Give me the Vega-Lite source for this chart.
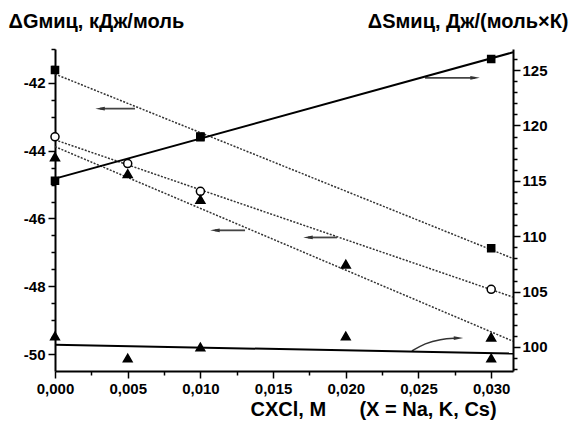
{
  "$schema": "https://vega.github.io/schema/vega-lite/v6.json",
  "width": 458,
  "height": 322,
  "autosize": {"type": "none"},
  "padding": {"left": 55, "top": 49, "right": 57, "bottom": 52},
  "background": "white",
  "config": {
    "view": {"stroke": null},
    "font": "Liberation Sans",
    "axis": {
      "grid": false,
      "domainColor": "black",
      "domainWidth": 2,
      "tickColor": "black",
      "tickWidth": 1.5,
      "tickCount": 200,
      "labelColor": "black",
      "labelFontSize": 15,
      "labelFontWeight": "bold",
      "labelFont": "Liberation Sans",
      "labelOverlap": false,
      "labelBound": false,
      "labelFlush": false,
      "titleColor": "black",
      "titleFont": "Liberation Sans",
      "titleFontSize": 20,
      "titleFontWeight": "bold"
    }
  },
  "datasets": {
    "gpts": [
      {"x": 0, "v": -41.62, "s": "sq"},
      {"x": 0.01, "v": -43.6, "s": "sq"},
      {"x": 0.03, "v": -46.88, "s": "sq"},
      {"x": 0, "v": -43.59, "s": "ci"},
      {"x": 0.005, "v": -44.38, "s": "ci"},
      {"x": 0.01, "v": -45.2, "s": "ci"},
      {"x": 0.03, "v": -48.09, "s": "ci"},
      {"x": 0, "v": -44.18, "s": "tr"},
      {"x": 0.005, "v": -44.68, "s": "tr"},
      {"x": 0.01, "v": -45.44, "s": "tr"},
      {"x": 0.02, "v": -47.35, "s": "tr"},
      {"x": 0.03, "v": -49.5, "s": "tr"}
    ],
    "glines": [
      {"x": 0, "v": -41.74, "s": "sq"},
      {"x": 0.0315, "v": -47.18, "s": "sq"},
      {"x": 0, "v": -43.68, "s": "ci"},
      {"x": 0.0315, "v": -48.32, "s": "ci"},
      {"x": 0, "v": -43.88, "s": "tr"},
      {"x": 0.0315, "v": -49.62, "s": "tr"}
    ],
    "arrows": [
      {"x": 0.0031, "x2": 0.0055, "v": -42.76},
      {"x": 0.02545, "x2": 0.02889, "v": -41.85},
      {"x": 0.011, "x2": 0.01307, "v": -46.35},
      {"x": 0.0174, "x2": 0.0194, "v": -46.56}
    ],
    "heads": [
      {"x": 0.0031, "v": -42.76, "shape": "M-1,0L1,-0.4L1,0.4Z"},
      {"x": 0.02889, "v": -41.85, "shape": "M1,0L-1,-0.4L-1,0.4Z"},
      {"x": 0.011, "v": -46.35, "shape": "M-1,0L1,-0.4L1,0.4Z"},
      {"x": 0.0174, "v": -46.56, "shape": "M-1,0L1,-0.4L1,0.4Z"},
      {"x": 0.02775, "v": -49.53, "shape": "M1,0L-1,-0.4L-1,0.4Z"}
    ],
    "curve": [
      {"x": 0.02455, "v": -49.91},
      {"x": 0.02545, "v": -49.68},
      {"x": 0.02648, "v": -49.56},
      {"x": 0.02765, "v": -49.53}
    ],
    "spts": [
      {"x": 0, "v": 115.0, "s": "sq"},
      {"x": 0.01, "v": 119.0, "s": "sq"},
      {"x": 0.03, "v": 126.0, "s": "sq"},
      {"x": 0, "v": 101.0, "s": "tr"},
      {"x": 0.005, "v": 99.0, "s": "tr"},
      {"x": 0.01, "v": 100.0, "s": "tr"},
      {"x": 0.02, "v": 101.0, "s": "tr"},
      {"x": 0.03, "v": 99.0, "s": "tr"}
    ],
    "slines": [
      {"x": 0, "v": 115.2, "s": "sq"},
      {"x": 0.0315, "v": 126.6, "s": "sq"},
      {"x": 0, "v": 100.2, "s": "tr"},
      {"x": 0.0315, "v": 99.4, "s": "tr"}
    ]
  },
  "layer": [
    {
      "layer": [
        {
          "data": {"name": "glines"},
          "mark": {"type": "line", "strokeDash": [2, 1.5], "strokeWidth": 1.5, "color": "#333"},
          "encoding": {
            "x": {
              "field": "x", "type": "quantitative",
              "scale": {"domain": [0, 0.0315], "nice": false, "zero": false},
              "axis": {
                "values": [0, 0.0025, 0.005, 0.0075, 0.01, 0.0125, 0.015, 0.0175, 0.02, 0.0225, 0.025, 0.0275, 0.03],
                "tickCount": 200,
                "labelExpr": "abs(datum.value*200 - round(datum.value*200)) < 0.01 ? replace(format(datum.value, '.3f'), '.', ',') : ''",
                "tickSize": {"condition": {"test": "abs(datum.value*200 - round(datum.value*200)) < 0.01", "value": 7}, "value": 4},
                "labelPadding": 3,
                "title": "CXCl, M\u00a0\u00a0\u00a0\u00a0\u00a0\u00a0(X = Na, K, Cs)",
                "titleAlign": "left",
                "titleAnchor": "start",
                "titleBaseline": "alphabetic",
                "titleFontSize": 20,
                "titleX": 195,
                "titleY": 44
              }
            },
            "y": {
              "field": "v", "type": "quantitative",
              "scale": {"domain": [-50.5, -41.0], "nice": false, "zero": false},
              "axis": {
                "orient": "left",
                "values": [-50, -49.5, -49, -48.5, -48, -47.5, -47, -46.5, -46, -45.5, -45, -44.5, -44, -43.5, -43, -42.5, -42, -41.5, -41],
                "tickCount": 200,
                "labelExpr": "abs(datum.value - round(datum.value/2)*2) < 0.01 ? '-' + abs(datum.value) : ''",
                "tickSize": {"condition": {"test": "abs(datum.value - round(datum.value/2)*2) < 0.01", "value": 7}, "value": 4},
                "labelPadding": 3,
                "title": "ΔGмиц, кДж/моль",
                "titleAngle": 0,
                "titleAlign": "left",
                "titleBaseline": "alphabetic",
                "titleX": -47,
                "titleY": -22
              }
            },
            "detail": {"field": "s"}
          }
        },
        {
          "data": {"name": "arrows"},
          "mark": {"type": "rule", "strokeWidth": 1.8, "color": "#444"},
          "encoding": {
            "x": {"field": "x", "type": "quantitative"},
            "x2": {"field": "x2"},
            "y": {"field": "v", "type": "quantitative"}
          }
        },
        {
          "data": {"name": "curve"},
          "mark": {"type": "line", "interpolate": "basis", "strokeWidth": 1.5, "color": "#333"},
          "encoding": {
            "x": {"field": "x", "type": "quantitative"},
            "y": {"field": "v", "type": "quantitative"}
          }
        },
        {
          "data": {"name": "heads"},
          "mark": {"type": "point", "filled": true, "color": "#333", "size": 90, "opacity": 1},
          "encoding": {
            "x": {"field": "x", "type": "quantitative"},
            "y": {"field": "v", "type": "quantitative"},
            "shape": {"field": "shape", "type": "nominal", "scale": null}
          }
        },
        {
          "data": {"name": "gpts"},
          "mark": {"type": "point", "filled": true, "opacity": 1, "stroke": "black", "strokeWidth": 1.5},
          "encoding": {
            "x": {"field": "x", "type": "quantitative"},
            "y": {"field": "v", "type": "quantitative"},
            "shape": {"field": "s", "type": "nominal", "scale": {"domain": ["sq", "ci", "tr"], "range": ["square", "circle", "triangle-up"]}, "legend": null},
            "size": {"field": "s", "type": "nominal", "scale": {"domain": ["sq", "ci", "tr"], "range": [50, 80, 75]}, "legend": null},
            "fill": {"condition": {"test": "datum.s === 'ci'", "value": "white"}, "value": "black"}
          }
        }
      ]
    },
    {
      "layer": [
        {
          "data": {"name": "slines"},
          "mark": {"type": "line", "strokeWidth": 2, "color": "black"},
          "encoding": {
            "x": {"field": "x", "type": "quantitative"},
            "y": {
              "field": "v", "type": "quantitative",
              "scale": {"domain": [97.83, 126.9], "nice": false, "zero": false},
              "axis": {
                "orient": "right",
                "values": [98, 99, 100, 101, 102, 103, 104, 105, 106, 107, 108, 109, 110, 111, 112, 113, 114, 115, 116, 117, 118, 119, 120, 121, 122, 123, 124, 125, 126],
                "tickCount": 200,
                "labelExpr": "round(datum.value) % 5 == 0 ? format(datum.value, 'd') : ''",
                "tickSize": {"condition": {"test": "round(datum.value) % 5 == 0", "value": 7}, "value": 4},
                "labelOverlap": false,
                "labelPadding": 2,
                "title": "ΔSмиц, Дж/(моль×К)",
                "titleAngle": 0,
                "titleAlign": "right",
                "titleBaseline": "alphabetic",
                "titleX": 55,
                "titleY": -22
              }
            },
            "detail": {"field": "s"}
          }
        },
        {
          "data": {"name": "spts"},
          "mark": {"type": "point", "filled": true, "opacity": 1, "color": "black", "stroke": "black", "strokeWidth": 1.5},
          "encoding": {
            "x": {"field": "x", "type": "quantitative"},
            "y": {"field": "v", "type": "quantitative"},
            "shape": {"field": "s", "type": "nominal", "scale": {"domain": ["sq", "tr"], "range": ["square", "triangle-up"]}, "legend": null},
            "size": {"field": "s", "type": "nominal", "scale": {"domain": ["sq", "tr"], "range": [50, 75]}, "legend": null}
          }
        }
      ]
    }
  ],
  "resolve": {"scale": {"y": "independent", "shape": "independent", "size": "independent"}, "axis": {"y": "independent"}}
}
